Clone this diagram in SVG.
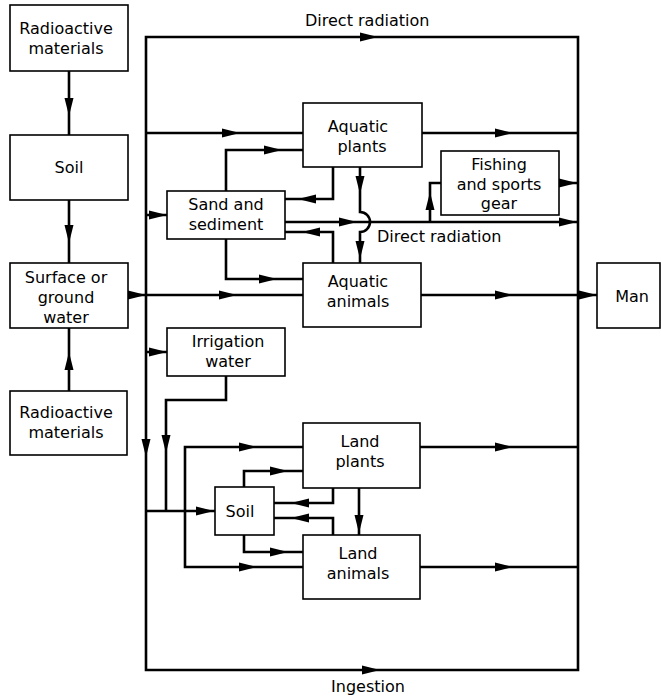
<svg xmlns="http://www.w3.org/2000/svg" xmlns:xlink="http://www.w3.org/1999/xlink" width="661" height="698" viewBox="0 0 661 698">
<style>
.box{fill:#fff;stroke:#000;stroke-width:1.6}
.ln{fill:none;stroke:#000;stroke-width:2.6;stroke-linejoin:miter}
text{font-family:"DejaVu Sans","Liberation Sans",sans-serif;font-size:16px;fill:#000;text-anchor:middle}
.st{text-anchor:start}
</style>
<defs>
<path id="ah" d="M0,0 L-18,-4.5 L-18,4.5 Z" fill="#000"/>
</defs>
<rect width="661" height="698" fill="#fff"/>
<g id="connectors">
<path class="ln" d="M69,71 V135 M69,199 V263 M69,391 V328"/>
<path class="ln" d="M146,37 H578 V670 H146 Z"/>
<path class="ln" d="M128,295 H303 M421,295 H597"/>
<path class="ln" d="M146,133 H303 M422,133 H578"/>
<path class="ln" d="M226,191 V150 H303"/>
<path class="ln" d="M333,167 V199 H285"/>
<path class="ln" d="M360,167 V212 A10,10 0 0 1 360,232 V263"/>
<path class="ln" d="M285,222 H578"/>
<path class="ln" d="M430,222 V183 H441 M559,183 H578"/>
<path class="ln" d="M333,263 V232 H285"/>
<path class="ln" d="M226,239 V279 H303"/>
<path class="ln" d="M146,215 H167 M146,352 H167"/>
<path class="ln" d="M226,376 V400 H166 V511"/>
<path class="ln" d="M146,511 H215"/>
<path class="ln" d="M303,447 H185 V567 H303"/>
<path class="ln" d="M244,487 V471 H303 M244,535 V552 H303"/>
<path class="ln" d="M333,488 V503 H274 M333,535 V518 H274"/>
<path class="ln" d="M359,488 V535"/>
<path class="ln" d="M420,447 H578 M420,567 H578"/>
<g id="arrowheads">
<use xlink:href="#ah" transform="translate(69,116) rotate(90)"/>
<use xlink:href="#ah" transform="translate(69,243) rotate(90)"/>
<use xlink:href="#ah" transform="translate(69,352) rotate(-90)"/>
<use xlink:href="#ah" transform="translate(378,37)"/>
<use xlink:href="#ah" transform="translate(146,457) rotate(90)"/>
<use xlink:href="#ah" transform="translate(380,670)"/>
<use xlink:href="#ah" transform="translate(146,295)"/>
<use xlink:href="#ah" transform="translate(240,133)"/>
<use xlink:href="#ah" transform="translate(513,133)"/>
<use xlink:href="#ah" transform="translate(282,150)"/>
<use xlink:href="#ah" transform="translate(298,199) rotate(180)"/>
<use xlink:href="#ah" transform="translate(360,194) rotate(90)"/>
<use xlink:href="#ah" transform="translate(360,259) rotate(90)"/>
<use xlink:href="#ah" transform="translate(357,222)"/>
<use xlink:href="#ah" transform="translate(577,222)"/>
<use xlink:href="#ah" transform="translate(430,192) rotate(-90)"/>
<use xlink:href="#ah" transform="translate(577,183)"/>
<use xlink:href="#ah" transform="translate(302,232) rotate(180)"/>
<use xlink:href="#ah" transform="translate(277,279)"/>
<use xlink:href="#ah" transform="translate(167,215)"/>
<use xlink:href="#ah" transform="translate(237,295)"/>
<use xlink:href="#ah" transform="translate(513,295)"/>
<use xlink:href="#ah" transform="translate(597,295)"/>
<use xlink:href="#ah" transform="translate(167,352)"/>
<use xlink:href="#ah" transform="translate(166,453) rotate(90)"/>
<use xlink:href="#ah" transform="translate(214,511)"/>
<use xlink:href="#ah" transform="translate(257,447)"/>
<use xlink:href="#ah" transform="translate(257,567)"/>
<use xlink:href="#ah" transform="translate(288,471)"/>
<use xlink:href="#ah" transform="translate(288,552)"/>
<use xlink:href="#ah" transform="translate(291,503) rotate(180)"/>
<use xlink:href="#ah" transform="translate(291,518) rotate(180)"/>
<use xlink:href="#ah" transform="translate(359,533) rotate(90)"/>
<use xlink:href="#ah" transform="translate(513,447)"/>
<use xlink:href="#ah" transform="translate(513,567)"/>
</g>
<text class="st" x="305" y="26">Direct radiation</text>
<text class="st" x="377" y="242">Direct radiation</text>
<text x="368" y="692">Ingestion</text>
</g>
<g id="radioactive-top"><rect class="box" x="10" y="5" width="118" height="66"/><text x="66" y="34">Radioactive</text><text x="66" y="54">materials</text></g>
<g id="soil-left"><rect class="box" x="10" y="135" width="118" height="65"/><text x="69" y="173">Soil</text></g>
<g id="surface-water"><rect class="box" x="10" y="263" width="118" height="65"/><text x="66" y="283">Surface or</text><text x="66" y="303">ground</text><text x="66" y="323">water</text></g>
<g id="radioactive-bottom"><rect class="box" x="10" y="391" width="117" height="64"/><text x="66" y="418">Radioactive</text><text x="66" y="438">materials</text></g>
<g id="aquatic-plants"><rect class="box" x="303" y="103" width="119" height="64"/><text x="358" y="132">Aquatic</text><text x="362" y="152">plants</text></g>
<g id="fishing-gear"><rect class="box" x="441" y="151" width="118" height="64"/><text x="499" y="170">Fishing</text><text x="499" y="190">and sports</text><text x="499" y="209">gear</text></g>
<g id="sand-sediment"><rect class="box" x="167" y="191" width="118" height="48"/><text x="226" y="210">Sand and</text><text x="226" y="230">sediment</text></g>
<g id="aquatic-animals"><rect class="box" x="303" y="263" width="118" height="64"/><text x="358" y="287">Aquatic</text><text x="358" y="307">animals</text></g>
<g id="man"><rect class="box" x="597" y="263" width="63" height="65"/><text x="632" y="302">Man</text></g>
<g id="irrigation-water"><rect class="box" x="167" y="328" width="118" height="48"/><text x="228" y="347">Irrigation</text><text x="228" y="367">water</text></g>
<g id="land-plants"><rect class="box" x="303" y="423" width="117" height="65"/><text x="360" y="447">Land</text><text x="360" y="467">plants</text></g>
<g id="soil-small"><rect class="box" x="215" y="487" width="59" height="48"/><text x="240" y="517">Soil</text></g>
<g id="land-animals"><rect class="box" x="303" y="535" width="117" height="64"/><text x="358" y="559">Land</text><text x="358" y="579">animals</text></g>
</svg>
